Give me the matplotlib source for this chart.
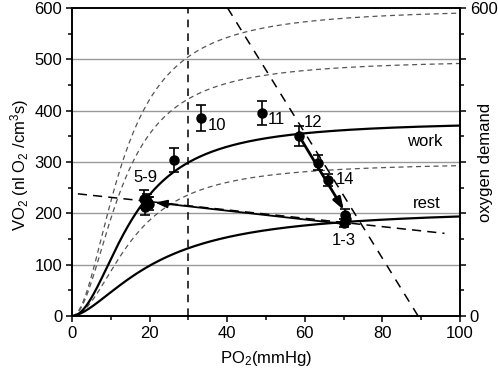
import numpy as np
import matplotlib
matplotlib.use("Agg")
import matplotlib.pyplot as plt

plt.rcParams['font.family'] = ['Liberation Sans', 'DejaVu Sans']
plt.rcParams['mathtext.fontset'] = 'custom'
plt.rcParams['mathtext.rm'] = 'Liberation Sans'
plt.rcParams['mathtext.it'] = 'Liberation Sans:italic'
plt.rcParams['font.size'] = 12

# measured points (PO2, VO2, error)
pts_x = [18.5, 19.2, 19.8, 18.9, 19.5, 26.3, 33.2, 49.0, 58.5, 63.5, 65.9, 70.3, 70.5, 70.1]
pts_y = [228, 224, 219, 213, 221, 304, 386, 396, 351, 299, 265, 196, 188, 181]
pts_err = [17, 14, 12, 16, 10, 23, 26, 23, 20, 15, 12, 12, 9, 7]

point_labels = ["5-9", "10", "11", "12", "14", "1-3"]
label_x = [18.8, 37.3, 52.6, 62.1, 70.4, 70.0]
label_y = [269, 372, 382, 377, 266, 148]

# Hill curves: Vmax, P50, n
work_curve = (380, 15.6, 2.0)
rest_curve = (210, 21.7, 1.63)
demand_curves = [(600, 13.0, 2.0), (500, 12.8, 2.0), (300, 15.6, 2.0)]

# straight dashed guide lines (x0, y0, x1, y1)
steep_line = (40.1, 600, 89.2, 0)
shallow_line = (1.5, 238, 96, 161)
vert_x = 30

# arrows (from, to)
arrow_rest = ((70.5, 179), (21.4, 221))
arrow_work = ((58.5, 351), (70.1, 206))


def hill(p, vmax, p50, n):
    return vmax * p ** n / (p ** n + p50 ** n)


fig = plt.figure(figsize=(4.98, 3.76), dpi=100)
ax = fig.add_axes([0.1446, 0.1596, 0.7791, 0.8191])

p = np.linspace(0, 100, 400)
for vmax, p50, n in demand_curves:
    ax.plot(p, hill(p, vmax, p50, n), color='#555555', lw=0.9, ls=(0, (4, 3)))
for vmax, p50, n in [work_curve, rest_curve]:
    ax.plot(p, hill(p, vmax, p50, n), color='black', lw=1.6)

for y in range(100, 600, 100):
    ax.axhline(y, color='#999999', lw=1.0, zorder=0)

ax.axvline(vert_x, color='black', lw=1.1, ls=(0, (5, 4)))
ax.plot(steep_line[0::2], steep_line[1::2], color='black', lw=1.1, ls=(0, (6, 5)))
ax.plot(shallow_line[0::2], shallow_line[1::2], color='black', lw=1.1, ls=(0, (6, 4)))

ax.annotate('', xy=arrow_rest[1], xytext=arrow_rest[0],
            arrowprops=dict(arrowstyle='-|>,head_length=0.6,head_width=0.2', color='black',
                            lw=1.3, mutation_scale=12, shrinkA=0, shrinkB=0))
ax.annotate('', xy=arrow_work[1], xytext=arrow_work[0],
            arrowprops=dict(arrowstyle='-|>,head_length=0.6,head_width=0.2', color='black',
                            lw=2.0, mutation_scale=12, shrinkA=0, shrinkB=0))

ax.errorbar(pts_x, pts_y, yerr=pts_err, fmt='o', color='black', ms=6.5,
            capsize=3.5, elinewidth=1.2, capthick=1.2, zorder=5)

for t, x, y in zip(point_labels, label_x, label_y):
    ax.text(x, y, t, ha='center', va='center', fontsize=12)
ax.text(91, 340, 'work', ha='center', va='center', fontsize=12)
ax.text(91.4, 220, 'rest', ha='center', va='center', fontsize=12)

ax.set_xlim(0, 100)
ax.set_ylim(0, 600)
ax.set_xticks(range(0, 101, 20))
ax.set_xticks(range(10, 100, 20), minor=True)
ax.set_yticks(range(0, 601, 100))
ax.set_yticks(range(50, 600, 100), minor=True)
ax.tick_params(which='major', direction='out', length=4, width=1.1, labelsize=12, pad=3)
ax.tick_params(which='minor', direction='out', length=3, width=1.1)
for s in ax.spines.values():
    s.set_linewidth(1.2)

ax.set_xlabel('PO$_2$(mmHg)', fontsize=12, labelpad=6)

ax2 = ax.twinx()
ax2.set_ylim(0, 600)
ax2.set_yticks(range(0, 601, 100))
ax2.set_yticklabels(['0', '', '', '', '', '', '600'])
ax2.set_yticks(range(50, 600, 100), minor=True)
ax2.tick_params(which='major', direction='out', length=4, width=1.1, labelsize=12, pad=3)
ax2.tick_params(which='minor', direction='out', length=3, width=1.1)
for s in ax2.spines.values():
    s.set_linewidth(1.2)

fig.text(20 / 498, 1 - 165 / 376, 'VO$_2$ (nl O$_2$ /cm$^3$s)', rotation=90,
         ha='center', va='center', fontsize=12)
fig.text(485 / 498, 1 - 162 / 376, 'oxygen demand', rotation=90,
         ha='center', va='center', fontsize=12)

fig.savefig('out.png', dpi=100)
